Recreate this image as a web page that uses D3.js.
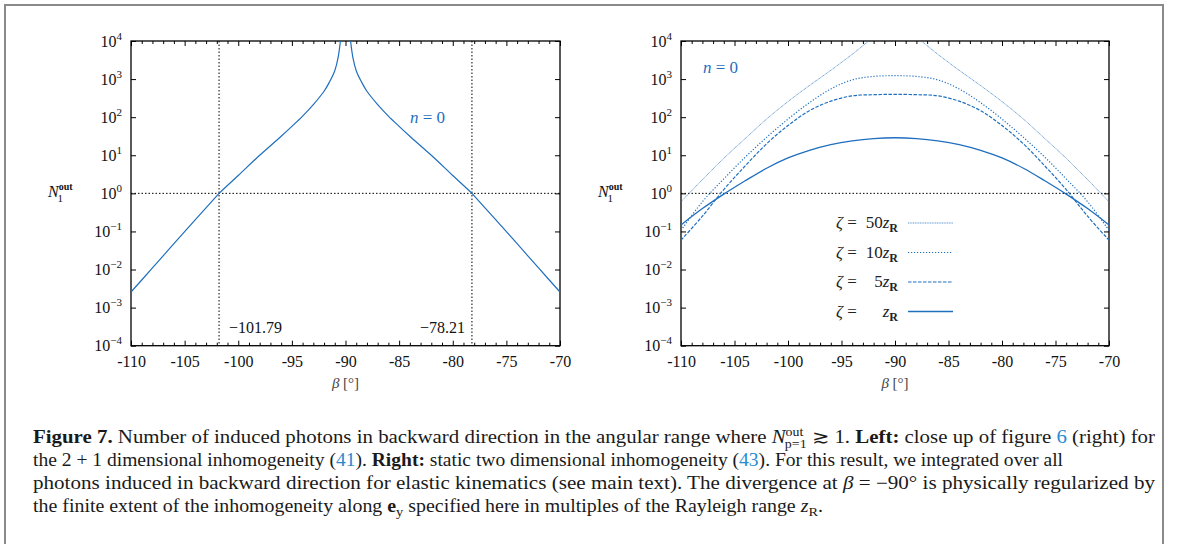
<!DOCTYPE html>
<html><head><meta charset="utf-8">
<script src="https://cdn.jsdelivr.net/npm/d3@7"></script>
<style>
html,body{margin:0;padding:0;background:#fff;}
svg{display:block;}
svg text{font-family:"Liberation Serif","Times New Roman",Tinos,"DejaVu Serif",serif !important;}
</style></head>
<body>
<svg id="c" width="1179" height="544"></svg>
<script>
// ---------- data ----------
const xTicks = [-110,-105,-100,-95,-90,-85,-80,-75,-70];
const yTickExps = [-4,-3,-2,-1,0,1,2,3,4];

// left panel: n = 0, 2+1 dimensional inhomogeneity (gap = divergence at -90)
const betaLeft = [-110,-108,-106,-104,-102,-101.79,-100,-98,-96,-95,-94,-93,-92,-91.5,-91,-90.7,-90.47,-90.3,-90,
                  -89.7,-89.53,-89.3,-89,-88.5,-88,-87,-86,-85,-84,-82,-80,-78.21,-78,-76,-74,-72,-70];
const nLeft    = [2.57e-3,1.10e-2,4.79e-2,0.204,0.861,1,2.95,10.0,31.6,57.5,107,214,479,832,1660,3550,1e4,2.5e4,null,
                  2.5e4,1e4,3550,1660,832,479,214,107,57.5,31.6,10.0,2.95,1,0.861,0.204,4.79e-2,1.10e-2,2.57e-3];
const crossLeft = [-101.79,-78.21];

// right panel: static two dimensional inhomogeneity
const betaRight = [-110,-108,-106,-104,-102,-100,-98,-96,-94,-92,-90,-88,-86,-84,-82,-80,-78,-76,-74,-72,-70];
const nZr   = [0.148,0.398,0.955,2.14,4.57,8.51,13.5,19.1,24.0,27.5,28.8,27.5,24.0,19.1,13.5,8.51,4.57,2.14,0.955,0.398,0.148];
const n5Zr  = [0.0589,0.251,1.26,5.25,20.0,60.3,148,263,363,389,398,389,363,263,148,60.3,20.0,5.25,1.26,0.251,0.0589];
const n10Zr = [0.107,0.603,2.40,8.91,29.5,89.1,240,550,955,1175,1230,1175,955,550,240,89.1,29.5,8.91,2.40,0.603,0.107];
const n50Zr = [0.603,2.29,8.32,27.5,89.1,257,676,1700,4470,12000,20000,12000,4470,1700,676,257,89.1,27.5,8.32,2.29,0.603];
const legendNums = ["50","10","5",""];
const seriesRight = [n50Zr,n10Zr,n5Zr,nZr];

// ---------- drawing ----------
const BLUE = "#1f6fbf";
const FONT = '"Liberation Serif","Times New Roman",Tinos,serif';
const svg = d3.select("#c");
svg.append("rect").attr("x",5).attr("y",5).attr("width",1158).attr("height",600)
   .attr("fill","none").attr("stroke","#8a8a8a").attr("stroke-width",2);

const Y0 = 41, Y1 = 345.7;
const yScale = d3.scaleLog().domain([1e-4,1e4]).range([Y1,Y0]);

function panel(x0,x1,id){
  const g = svg.append("g").style("font-family",FONT);
  const x = d3.scaleLinear().domain([-110,-70]).range([x0,x1]);
  const y = yScale;
  svg.append("clipPath").attr("id",id).append("rect")
     .attr("x",x0).attr("y",Y0).attr("width",x1-x0).attr("height",Y1-Y0);
  const minor = d3.range(-110,-69,1).filter(v=>v%5!==0);
  g.append("g").attr("transform",`translate(0,${Y1})`)
   .call(d3.axisBottom(x).tickValues(xTicks).tickSize(-5).tickSizeOuter(0).tickPadding(10).tickFormat(d=>String(d)))
   .call(a=>{a.select(".domain").remove();a.attr("font-family",null);
     a.selectAll("text").attr("font-size",16).attr("fill","#111").style("font-family",FONT);});
  g.append("g").attr("transform",`translate(0,${Y1})`)
   .call(d3.axisBottom(x).tickValues(minor).tickSize(-3).tickSizeOuter(0).tickFormat(""))
   .call(a=>a.select(".domain").remove());
  g.append("g").attr("transform",`translate(0,${Y0})`)
   .call(d3.axisTop(x).tickValues(xTicks).tickSize(-5).tickSizeOuter(0).tickFormat(""))
   .call(a=>a.select(".domain").remove());
  g.append("g").attr("transform",`translate(0,${Y0})`)
   .call(d3.axisTop(x).tickValues(minor).tickSize(-3).tickSizeOuter(0).tickFormat(""))
   .call(a=>a.select(".domain").remove());
  const yl = g.append("g").attr("transform",`translate(${x0},0)`)
   .call(d3.axisLeft(y).tickValues(yTickExps.map(e=>Math.pow(10,e))).tickSize(-5).tickSizeOuter(0).tickFormat(""))
   .call(a=>{a.select(".domain").remove();a.attr("font-family",null);});
  g.append("g").attr("transform",`translate(${x1},0)`)
   .call(d3.axisRight(y).tickValues(yTickExps.map(e=>Math.pow(10,e))).tickSize(-5).tickSizeOuter(0).tickFormat(""))
   .call(a=>a.select(".domain").remove());
  g.selectAll(".tick line").attr("stroke","#000").attr("stroke-width",1);
  yl.selectAll(".tick").each(function(d){
    const e = Math.round(Math.log10(d));
    const t = d3.select(this).append("text").attr("x",-9).attr("y",5).attr("text-anchor","end")
      .attr("fill","#111").attr("font-size",16).style("font-family",FONT);
    t.append("tspan").text("10");
    t.append("tspan").attr("dy",-7).attr("font-size",11).text(e<0?"\u2212"+(-e):String(e));
  });
  g.append("rect").attr("x",x0).attr("y",Y0).attr("width",x1-x0).attr("height",Y1-Y0)
   .attr("fill","none").attr("stroke","#000").attr("stroke-width",1.3);
  g.append("line").attr("x1",x0).attr("x2",x1).attr("y1",y(1)).attr("y2",y(1))
   .attr("stroke","#000").attr("stroke-width",1).attr("stroke-dasharray","1.5,2");
  const yt = g.append("text").attr("x",x0-83).attr("y",197).attr("font-size",16).attr("fill","#111");
  yt.append("tspan").attr("font-style","italic").text("N");
  yt.append("tspan").attr("dy",-7).attr("font-size",10).attr("font-weight","bold").text("out");
  yt.append("tspan").attr("dx",-15).attr("dy",12).attr("font-size",11).text("1");
  const xt = g.append("text").attr("x",(x0+x1)/2).attr("y",388).attr("text-anchor","middle").attr("font-size",15).attr("fill","#444");
  xt.append("tspan").attr("font-style","italic").text("\u03b2");
  xt.append("tspan").text(" [\u00b0]");
  return {g,x,y};
}

// left panel
const L = panel(131,560,"clipL");
crossLeft.forEach(b=>{
  L.g.append("line").attr("x1",L.x(b)).attr("x2",L.x(b)).attr("y1",Y0).attr("y2",Y1)
   .attr("stroke","#000").attr("stroke-width",1).attr("stroke-dasharray","1.5,2");
});
L.g.append("path").datum(betaLeft.map((b,i)=>[b,nLeft[i]]))
  .attr("clip-path","url(#clipL)")
  .attr("fill","none").attr("stroke",BLUE).attr("stroke-width",1.2)
  .attr("d",d3.line().defined(d=>d[1]!==null).x(d=>L.x(d[0])).y(d=>L.y(d[1])).curve(d3.curveCatmullRom.alpha(0.5)));
L.g.append("text").attr("x",L.x(crossLeft[0])+10).attr("y",333).attr("font-size",16).attr("fill","#111")
  .text("\u2212"+Math.abs(crossLeft[0]).toFixed(2));
L.g.append("text").attr("x",L.x(crossLeft[1])-7).attr("y",333).attr("text-anchor","end").attr("font-size",16).attr("fill","#111")
  .text("\u2212"+Math.abs(crossLeft[1]).toFixed(2));
function nLabel(g,x,y){
  const t = g.append("text").attr("x",x).attr("y",y).attr("font-size",17).attr("fill",BLUE);
  t.append("tspan").attr("font-style","italic").text("n");
  t.append("tspan").text(" = 0");
}
nLabel(L.g,410,123);

// right panel
const R = panel(681,1109,"clipR");
const styles = [
  {w:0.9, dash:"1,0.7", op:0.85},
  {w:1.2, dash:"1.2,1.8", op:1},
  {w:1.2, dash:"3.5,1.5", op:1},
  {w:1.3, dash:null, op:1}
];
seriesRight.forEach((s,k)=>{
  const p = R.g.append("path").datum(betaRight.map((b,i)=>[b,s[i]]))
    .attr("clip-path","url(#clipR)")
    .attr("fill","none").attr("stroke",BLUE).attr("stroke-width",styles[k].w).attr("stroke-opacity",styles[k].op)
    .attr("d",d3.line().x(d=>R.x(d[0])).y(d=>R.y(d[1])).curve(d3.curveCatmullRom.alpha(0.5)));
  if(styles[k].dash) p.attr("stroke-dasharray",styles[k].dash);
});
nLabel(R.g,703,73);
legendNums.forEach((num,k)=>{
  const yy = 223 + k*29.5;
  const a = R.g.append("text").attr("x",836).attr("y",yy+5).attr("font-size",17).attr("fill","#222");
  a.append("tspan").attr("font-style","italic").text("\u03b6");
  a.append("tspan").text(" =");
  const b = R.g.append("text").attr("x",898).attr("y",yy+5).attr("text-anchor","end").attr("font-size",17).attr("fill","#222");
  b.append("tspan").text(num);
  b.append("tspan").attr("font-style","italic").text("z");
  b.append("tspan").attr("dy",4).attr("font-size",12).attr("font-weight","bold").text("R");
  const ln = R.g.append("line").attr("x1",908).attr("x2",953).attr("y1",yy).attr("y2",yy)
    .attr("stroke",BLUE).attr("stroke-width",styles[k].w).attr("stroke-opacity",styles[k].op);
  if(styles[k].dash) ln.attr("stroke-dasharray",styles[k].dash);
});

// ---------- caption ----------
const LINK = "#2a8ad0";
const captionLines = [
  {len:1122, segs:[["b","Figure 7."],["n"," Number of induced photons in backward direction in the angular range where "],["i","N"],
    ["sup","out"],["sub","p=1"],["n"," \u2273 1. "],["b","Left:"],["n"," close up of figure "],["l","6"],["n"," (right) for"]]},
  {len:1030, segs:[["n","the 2 + 1 dimensional inhomogeneity ("],["l","41"],["n","). "],["b","Right:"],
    ["n"," static two dimensional inhomogeneity ("],["l","43"],["n","). For this result, we integrated over all"]]},
  {len:1122, segs:[["n","photons induced in backward direction for elastic kinematics (see main text). The divergence at "],["i","\u03b2"],
    ["n"," = \u221290\u00b0 is physically regularized by"]]},
  {len:790, segs:[["n","the finite extent of the inhomogeneity along "],["b","e"],["sub2","y"],["n"," specified here in multiples of the Rayleigh range "],
    ["i","z"],["sub2","R"],["n","."]]}
];
captionLines.forEach((ln,i)=>{
  const t = svg.append("text").attr("x",33).attr("y",443+i*23).attr("font-size",18).attr("fill","#1a1a1a")
    .style("font-family",FONT)
    .attr("textLength",ln.len).attr("lengthAdjust","spacingAndGlyphs");
  let shift = 0;
  ln.segs.forEach(([k,s])=>{
    const sp = t.append("tspan").text(s);
    if(k==="b") sp.attr("font-weight","bold");
    if(k==="i") sp.attr("font-style","italic");
    if(k==="l") sp.attr("fill",LINK);
    if(k==="sup"){ sp.attr("font-size",12).attr("dy",-7); shift=-7; }
    if(k==="sub"){ sp.attr("font-size",12).attr("dx",-16).attr("dy",12); shift=5; }
    if(k==="sub2"){ sp.attr("font-size",13).attr("dy",4); shift=4; }
    if(k==="n" && shift!==0){ sp.attr("dy",-shift); shift=0; }
  });
});
</script>
</body></html>
